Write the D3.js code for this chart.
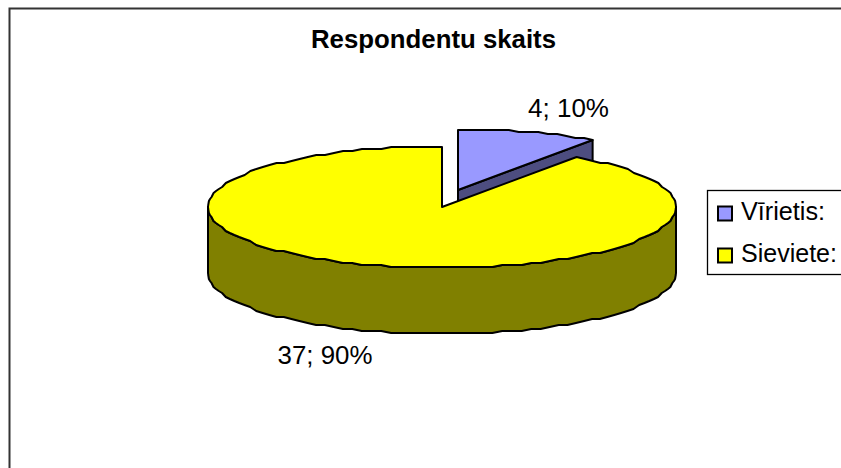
<!DOCTYPE html>
<html><head><meta charset="utf-8">
<script src="https://cdn.jsdelivr.net/npm/d3@7"></script>
<style>html,body{margin:0;padding:0;background:#fff}svg{display:block}text{font-family:"Liberation Sans",Arial,sans-serif;fill:#000}</style>
</head><body><svg id="c" width="841" height="468"></svg>
<script>
const title = "Respondentu skaits";
const categories = ["Vīrietis:", "Sieviete:"];
const values = [4, 37];
const percents = [10, 90];
const topColors = ["#9999ff", "#ffff00"];
const sideColors = ["#4d4d80", "#808000"];

const svg = d3.select("#c");
const W = 841, H = 468;
// chart frame: only left and top edges fall inside the picture
svg.append("path").attr("d", d3.line()([[9.5, H], [9.5, 8.5], [W, 8.5]]))
  .attr("fill", "none").attr("stroke", "#333").attr("stroke-width", 2);

svg.append("text").attr("x", 433.5).attr("y", 48).attr("text-anchor", "middle")
  .attr("font-size", 25).attr("font-weight", "bold").attr("textLength", 245).attr("lengthAdjust", "spacingAndGlyphs").text(title);

const arcs = d3.pie().sort(null).value(d => d)(values);
const center = [442, 207], rx = 234, ry = 61, depth = 66;
const explode = [[16, -17], [0, 0]];

const sx = d3.scaleLinear().domain([-1, 1]);
const sy = d3.scaleLinear().domain([-1, 1]);
function setScale(i, dy) {
  const cx = center[0] + explode[i][0], cy = center[1] + explode[i][1] + (dy || 0);
  sx.range([cx - rx, cx + rx]); sy.range([cy - ry, cy + ry]);
}
// the reference outline is slightly stepped: vertices snap to a pixel grid
const grid = 2;
const pt = a => {
  const yv = sy(-Math.cos(a)), base = sy(0);
  return [sx(Math.sin(a)), base + Math.round((yv - base) / grid) * grid];
};
function arcAngles(a0, a1) {
  const n = Math.max(1, Math.round(Math.abs(a1 - a0) / (Math.PI / 72)));
  return d3.range(n + 1).map(k => a0 + (a1 - a0) * k / n);
}
const line = d3.line();
const stroke = { stroke: "#000", "stroke-width": 2, "stroke-linejoin": "round" };
function shape(d, fill) {
  const p = svg.append("path").attr("d", d).attr("fill", fill);
  Object.entries(stroke).forEach(([k, v]) => p.attr(k, v));
  return p;
}

// Vīrietis side face
setScale(0);
const b = arcs[0];
const apexB = [sx(0), sy(0)], endB = pt(b.endAngle);
shape(line([apexB, endB, [endB[0], endB[1] + depth], [apexB[0], apexB[1] + depth]]) + "Z", sideColors[0]);

// Sieviete rim (front half of the disc) shares the top face's vertices
const y = arcs[1];
const yAngles = arcAngles(y.startAngle, y.endAngle);
const front = [Math.PI / 2, ...yAngles.filter(a => a > Math.PI / 2 && a < 3 * Math.PI / 2), 3 * Math.PI / 2];
setScale(1);
const upper = front.map(pt);
setScale(1, depth);
const lower = front.slice().reverse().map(pt);
shape(line(upper.concat(lower)) + "Z", sideColors[1]);

// Sieviete top
setScale(1);
shape(line([[sx(0), sy(0)], ...yAngles.map(pt)]) + "Z", topColors[1]);

// Vīrietis top
setScale(0);
shape(line([[sx(0), sy(0)], ...arcAngles(b.startAngle, b.endAngle).map(pt)]) + "Z", topColors[0]);

// data labels
const labelPos = [[568.5, 117], [325, 364]];
values.forEach((v, i) => {
  svg.append("text").attr("x", labelPos[i][0]).attr("y", labelPos[i][1]).attr("text-anchor", "middle")
    .attr("font-size", 25).attr("textLength", i === 0 ? 81 : 95).attr("lengthAdjust", "spacingAndGlyphs").text(`${v}; ${percents[i]}%`);
});

// legend
svg.append("rect").attr("x", 707.5).attr("y", 190.5).attr("width", 150).attr("height", 84)
  .attr("fill", "#fff").attr("stroke", "#000").attr("stroke-width", 1.3);
const legendY = d3.scalePoint().domain(categories).range([213, 255]);
const legendW = [84, 96];
categories.forEach((c, i) => {
  const yy = legendY(c);
  svg.append("rect").attr("x", 718).attr("y", yy - 6.5).attr("width", 14).attr("height", 14)
    .attr("fill", topColors[i]).attr("stroke", "#000").attr("stroke-width", 2);
  svg.append("text").attr("x", 741).attr("y", yy + 7).attr("font-size", 25)
    .attr("textLength", legendW[i]).attr("lengthAdjust", "spacingAndGlyphs").text(c);
});
</script></body></html>
